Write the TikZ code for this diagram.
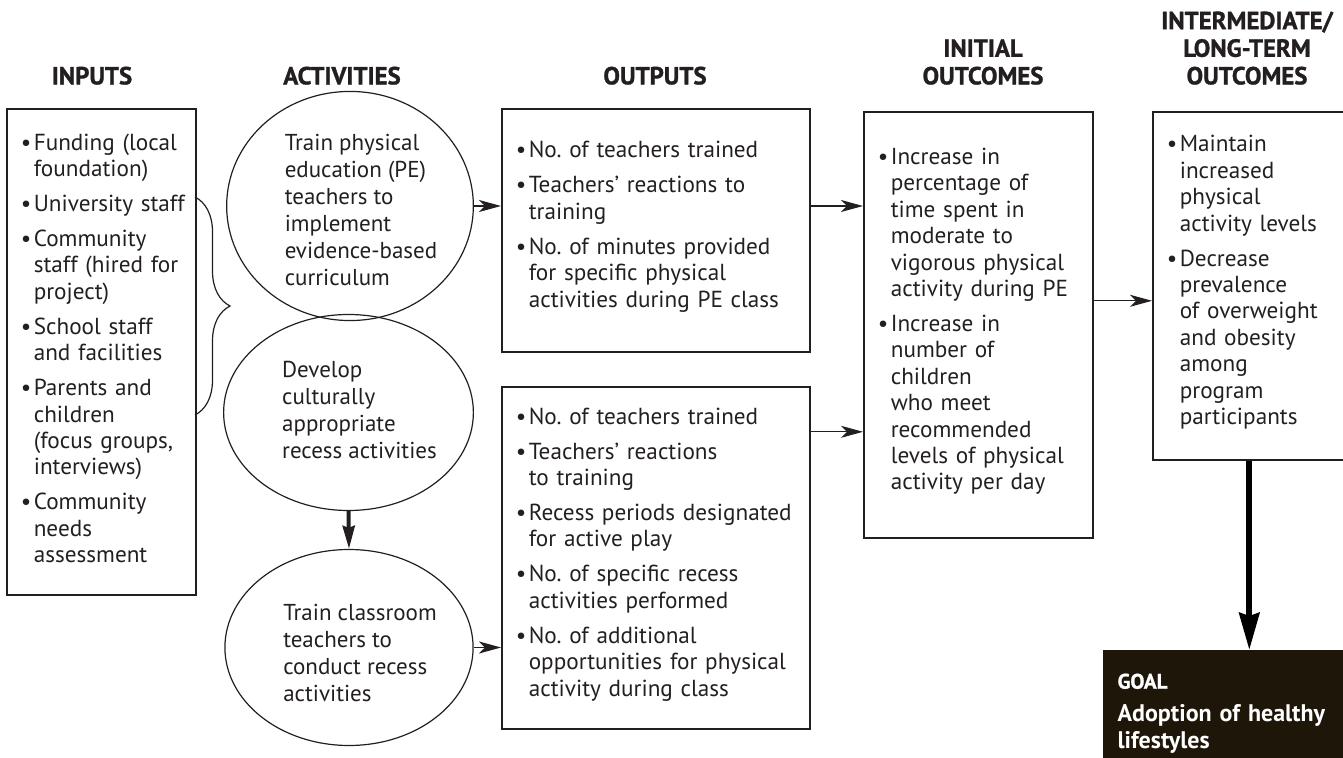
\documentclass[tikz,border=0pt]{standalone}
\usepackage{fontspec}
\setmainfont{PT Sans}
\newfontfamily\headfont{PT Sans}[BoldFeatures={FakeBold=1.2}]
\usetikzlibrary{positioning, shapes.geometric, arrows.meta, decorations.pathreplacing}

\definecolor{ink}{HTML}{231F20}
\definecolor{goalbg}{HTML}{1E1608}

\tikzset{
every picture/.style={
line width=0.6pt
}}

\frenchspacing
\newlength{\bulwd}
\setlength{\bulwd}{6.5pt}
% one bullet point, lines broken by hand with \newline
\newcommand{\bitem}[1]{\par\hangindent=\bulwd\hangafter=1\rightskip=-15pt plus 1fil\noindent\makebox[\bulwd][l]{\textbullet}#1\par\vskip4.3pt}
% lift the list a little inside its box
\newcommand{\pullup}{\vspace*{-8.5pt}}
% left aligned text, nudged right (and down) in the ellipse
\newcommand{\acttext}[2][0pt]{\hspace*{11pt}\raisebox{#1}[\height][\depth]{\begin{tabular}{@{}l@{}}#2\end{tabular}}}

\begin{document}
\begin{tikzpicture}[x=0.5pt, y=-0.5pt,
head/.style = {font=\fontsize{12.4}{13.8}\headfont\bfseries, align=center, anchor=south, inner sep=0pt, text depth=0pt, text=ink},
block/.style = {rectangle, draw=ink, line width=0.8pt, anchor=north west, inner xsep=7pt, inner ysep=0pt, align=left, text=ink, font=\fontsize{11.6}{13.2}\selectfont},
activity/.style = {ellipse, draw=ink, minimum width=114pt, minimum height=98pt, inner sep=0pt, text=ink, font=\fontsize{11.5}{13.5}\selectfont},
link/.style = {draw=ink, -{Stealth[length=11pt, width=6pt, inset=3pt]}},
thicklink/.style = {draw=ink, line width=2pt, -{Stealth[length=11.5pt, width=6pt, inset=1pt]}},
goallink/.style = {draw=black, line width=3pt, -{Stealth[length=18.5pt, width=10pt, inset=1.5pt]}}]

  \clip[use as bounding box] (0,0) rectangle (1343,758);

  % column heads
  \node[head] (hin)   at (92,85)   {INPUTS};
  \node[head] (hact)  at (342,85)  {ACTIVITIES};
  \node[head] (hout)  at (655,85)  {OUTPUTS};
  \node[head] (hinit) at (983,85)  {INITIAL\\OUTCOMES};
  \node[head] (hlong) at (1247,85) {INTERMEDIATE/\\LONG-TERM\\OUTCOMES};

  \node[block, text width=80.5pt, minimum height=243pt] (inputs) at (6,108) {\pullup
    \bitem{Funding (local\newline foundation)}
    \bitem{University staff}
    \bitem{Community\newline staff (hired for\newline project)}
    \bitem{School staff\newline and facilities}
    \bitem{Parents and\newline children\newline (focus groups,\newline interviews)}
    \bitem{Community\newline needs\newline assessment}};

  \node[activity] (act1) at (350,206)
    {\acttext[-3.5pt]{Train physical\\education (PE)\\teachers to\\implement\\evidence-based\\curriculum}};
  \node[activity] (act2) at (348.5,412.5)
    {\acttext{Develop\\culturally\\appropriate\\recess activities}};
  \node[activity] (act3) at (349,647.5)
    {\acttext[-4pt]{Train classroom\\teachers to\\conduct recess\\activities}};

  \node[block, text width=140pt, minimum height=121.5pt] (out1) at (501,108) {\pullup
    \bitem{No. of teachers trained}
    \bitem{Teachers' reactions to\newline training}
    \bitem{No. of minutes provided\newline for specific physical\newline activities during PE class}};
  \node[block, text width=140pt, minimum height=171pt] (out2) at (501,386) {\pullup
    \bitem{No. of teachers trained}
    \bitem{Teachers' reactions\newline to training}
    \bitem{Recess periods designated\newline for active play}
    \bitem{No. of specific recess\newline activities performed}
    \bitem{No. of additional\newline opportunities for physical\newline activity during class}};

  \node[block, text width=100.5pt, minimum height=213pt] (init) at (863,111) {\pullup
    \bitem{Increase in\newline percentage of\newline time spent in\newline moderate to\newline vigorous physical\newline activity during PE}
    \bitem{Increase in\newline number of\newline children\newline who meet\newline recommended\newline levels of physical\newline activity per day}};

  \node[block, text width=82.5pt, minimum height=174pt] (inter) at (1152,111) {\pullup
    \bitem{Maintain\newline increased\newline physical\newline activity levels}
    \bitem{Decrease\newline prevalence\newline of overweight\newline and obesity\newline among\newline program\newline participants}};

  \node[rectangle, fill=goalbg, draw=goalbg, anchor=north west, text width=107pt, inner xsep=7pt,
        minimum height=63pt, align=left, text=white, font=\fontsize{12}{13.5}\selectfont\bfseries]
    (goal) at (1103,650) {{\fontsize{10.5}{13.5}\headfont\bfseries GOAL}\\[3pt]Adoption of healthy\\lifestyles};

  % brace from the inputs
  \draw[ink, decorate, decoration={brace, amplitude=17.5pt}] (195,197) -- (195,415);

  \draw[link] (act1.east) -- (act1.east -| out1.west);
  \draw[link] (act3.east) -- (act3.east -| out2.west);
  \draw[thicklink] (act2.south) -- (act3.north);
  \draw[link] (act1.east -| out1.east) -- (act1.east -| init.west);
  \draw[link] ([yshift=63pt]out2.east) -- ([yshift=63pt]out2.east -| init.west);
  \draw[link] ([yshift=12pt]init.east) -- ([yshift=12pt]init.east -| inter.west);
  \draw[goallink] (inter.south) -- (inter.south |- goal.north);

\end{tikzpicture}
\end{document}
